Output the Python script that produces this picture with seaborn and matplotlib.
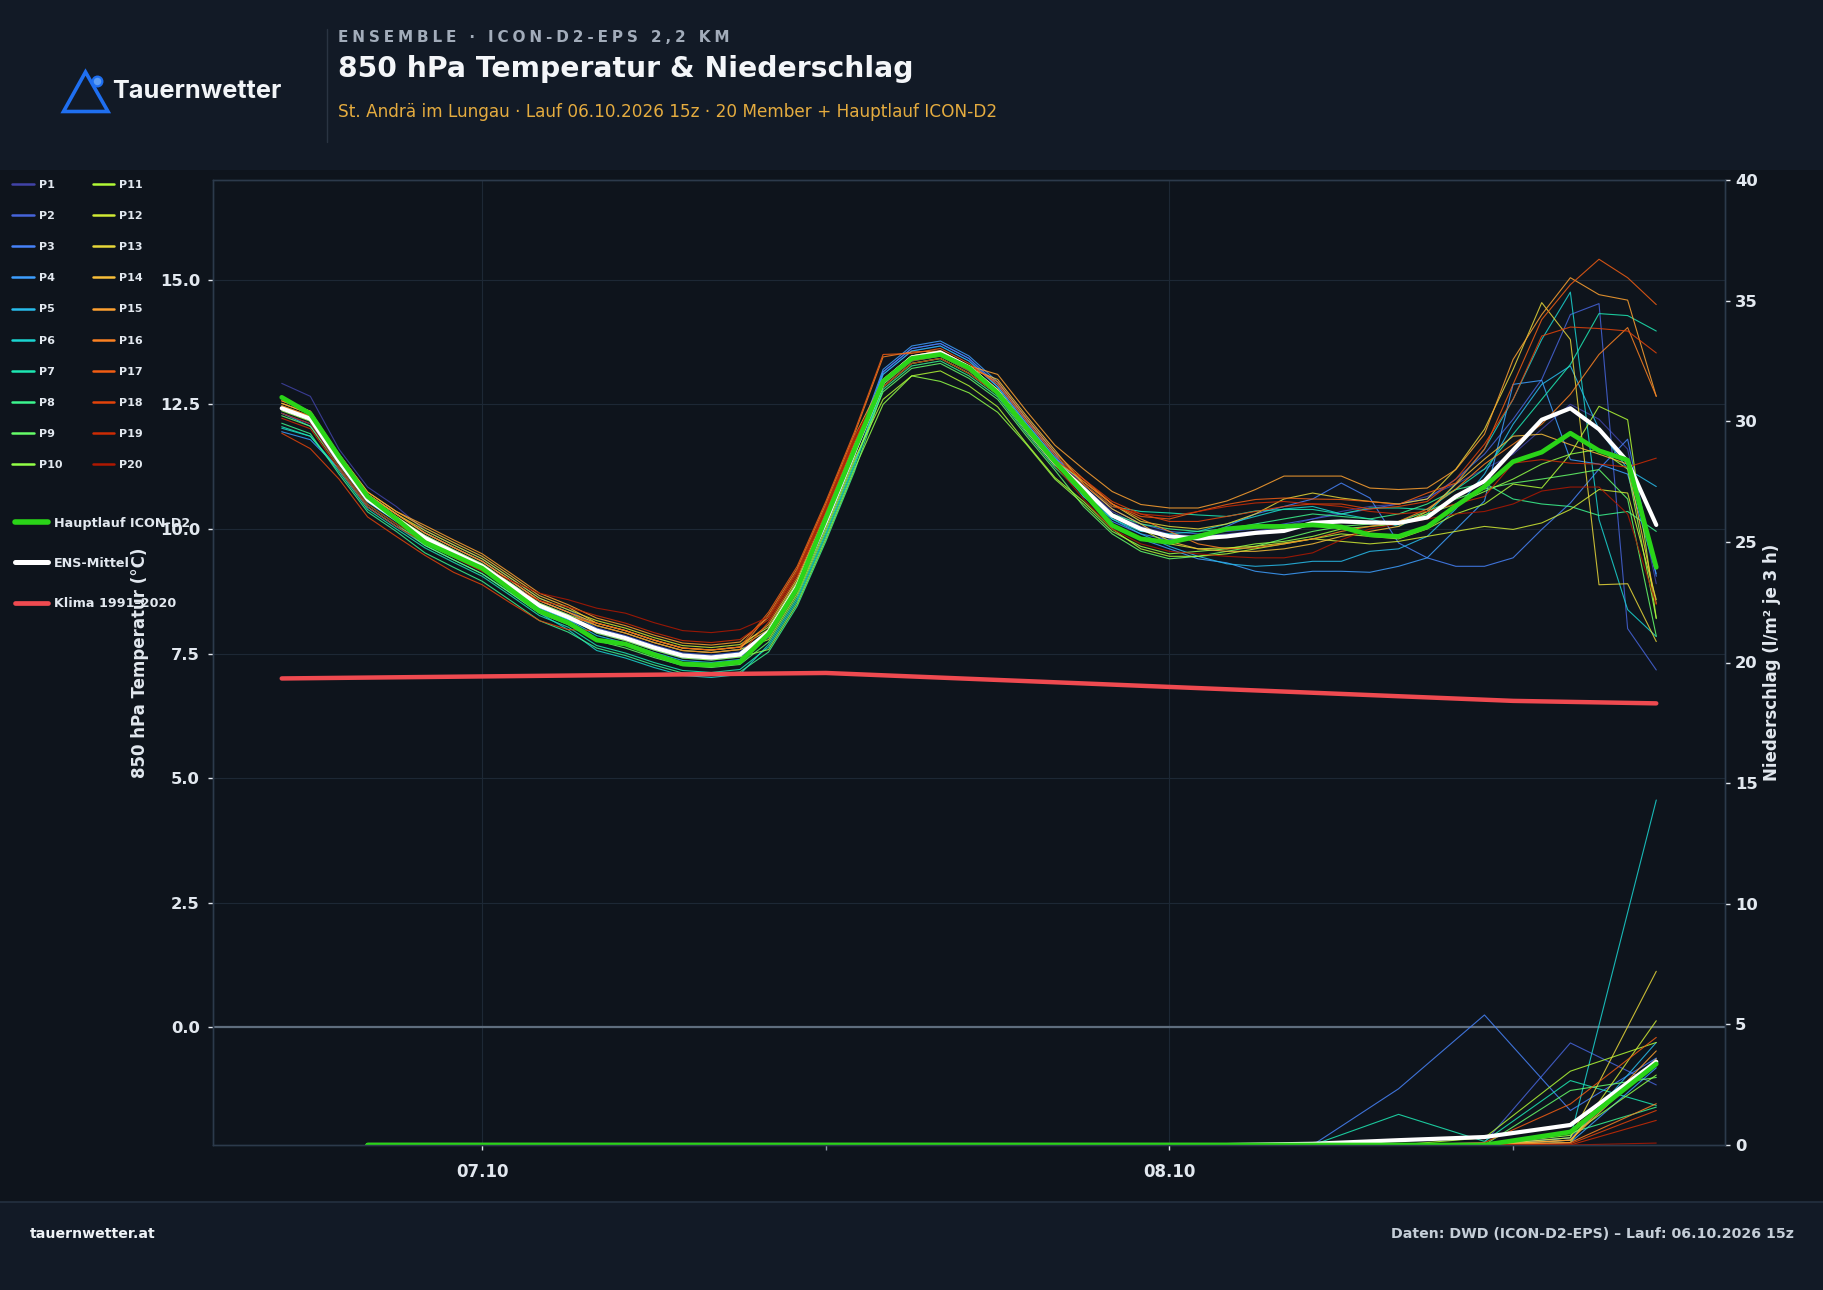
import numpy as np
import pandas as pd
import seaborn as sns
import matplotlib.pyplot as plt
import matplotlib.dates as mdates
from matplotlib.patches import Rectangle, Polygon
from matplotlib.lines import Line2D

# ---- time axes ----
temp_times = pd.date_range("2026-10-06 17:00", periods=49, freq="h")
precip_times = pd.date_range("2026-10-06 20:00", periods=16, freq="3h")
clim_times = pd.to_datetime(["2026-10-06 17:00", "2026-10-07 12:00", "2026-10-08 00:00",
                             "2026-10-08 12:00", "2026-10-08 17:00"])

# ---- 850 hPa temperature (°C) ----
hauptlauf_temp = [12.64, 12.31, 11.45, 10.65, 10.20, 9.73, 9.47, 9.21, 8.78, 8.35,
                  8.12, 7.77, 7.69, 7.48, 7.29, 7.27, 7.33, 7.89, 8.81, 10.21,
                  11.59, 12.96, 13.42, 13.50, 13.23, 12.73, 12.03, 11.35, 10.73, 10.07,
                  9.80, 9.73, 9.85, 10.00, 10.05, 10.05, 10.08, 10.04, 9.88, 9.85,
                  10.04, 10.46, 10.85, 11.35, 11.54, 11.92, 11.57, 11.38, 9.23]
ens_mean_temp = [12.42, 12.21, 11.36, 10.59, 10.20, 9.82, 9.53, 9.25, 8.86, 8.46,
                 8.23, 7.96, 7.81, 7.62, 7.46, 7.42, 7.48, 7.93, 8.85, 10.15,
                 11.55, 12.95, 13.44, 13.54, 13.24, 12.75, 12.02, 11.33, 10.81, 10.27,
                 10.00, 9.85, 9.81, 9.85, 9.92, 9.96, 10.12, 10.15, 10.13, 10.12,
                 10.23, 10.65, 10.96, 11.58, 12.19, 12.42, 12.00, 11.35, 10.08]
clim_temp = [7.00, 7.11, 6.83, 6.55, 6.50]

temp_p01 = [12.92, 12.66, 11.60, 10.84, 10.45, 9.97, 9.68, 9.40, 9.01, 8.61,
            8.38, 8.06, 7.91, 7.72, 7.56, 7.52, 7.58, 7.88, 8.80, 10.10,
            11.50, 13.10, 13.57, 13.67, 13.37, 12.85, 12.12, 11.43, 10.85, 10.35,
            10.05, 9.90, 9.85, 9.90, 9.95, 10.05, 10.20, 10.35, 10.45, 10.50,
            10.65, 10.90, 11.20, 11.50, 12.00, 12.50, 12.20, 11.60, 8.90]
temp_p02 = [12.62, 12.36, 11.45, 10.69, 10.30, 9.92, 9.63, 9.35, 8.96, 8.56,
            8.33, 8.01, 7.86, 7.67, 7.51, 7.47, 7.53, 7.93, 8.85, 10.15,
            11.55, 13.15, 13.62, 13.72, 13.42, 12.85, 12.12, 11.43, 10.90, 10.40,
            10.10, 9.95, 9.90, 9.95, 10.00, 10.10, 10.20, 10.30, 10.40, 10.50,
            10.60, 11.00, 11.50, 12.20, 13.00, 14.30, 14.52, 8.00, 7.17]
temp_p03 = [12.32, 12.11, 11.35, 10.59, 10.20, 9.87, 9.58, 9.30, 8.91, 8.51,
            8.28, 7.91, 7.76, 7.57, 7.41, 7.37, 7.43, 7.83, 8.75, 10.05,
            11.45, 13.15, 13.62, 13.72, 13.42, 12.90, 12.17, 11.48, 10.65, 10.15,
            9.90, 9.78, 9.85, 10.05, 10.30, 10.45, 10.60, 10.92, 10.62, 9.72,
            9.42, 9.25, 9.25, 9.42, 9.99, 10.52, 11.20, 11.80, 9.05]
temp_p04 = [11.95, 11.79, 11.20, 10.44, 10.05, 9.77, 9.48, 9.20, 8.81, 8.41,
            8.18, 7.96, 7.81, 7.62, 7.46, 7.42, 7.48, 7.98, 8.90, 10.20,
            11.60, 13.20, 13.67, 13.77, 13.47, 12.95, 12.22, 11.53, 10.70, 10.10,
            9.80, 9.60, 9.40, 9.32, 9.15, 9.08, 9.15, 9.15, 9.13, 9.25,
            9.42, 9.99, 10.56, 12.90, 12.98, 11.39, 11.30, 11.10, 9.10]
temp_p05 = [12.32, 12.06, 11.30, 10.54, 10.15, 9.77, 9.48, 9.20, 8.81, 8.41,
            8.18, 7.86, 7.71, 7.52, 7.36, 7.32, 7.38, 7.88, 8.80, 10.10,
            11.50, 13.10, 13.57, 13.67, 13.37, 12.85, 12.12, 11.43, 10.75, 10.20,
            9.90, 9.65, 9.45, 9.30, 9.25, 9.28, 9.35, 9.35, 9.55, 9.60,
            9.85, 10.40, 11.10, 12.10, 12.90, 13.27, 12.00, 11.20, 10.85]
temp_p06 = [12.02, 11.86, 11.20, 10.44, 10.05, 9.67, 9.38, 9.10, 8.71, 8.31,
            7.98, 7.56, 7.41, 7.22, 7.06, 7.02, 7.08, 7.68, 8.60, 9.90,
            11.30, 12.90, 13.37, 13.47, 13.17, 12.75, 12.02, 11.33, 10.65, 10.20,
            9.95, 9.90, 9.95, 10.10, 10.25, 10.40, 10.45, 10.30, 10.20, 10.05,
            10.30, 10.90, 11.60, 12.60, 13.80, 14.75, 10.19, 8.38, 7.84]
temp_p07 = [12.05, 11.86, 11.15, 10.39, 10.00, 9.62, 9.33, 9.05, 8.66, 8.26,
            8.03, 7.66, 7.51, 7.32, 7.16, 7.12, 7.18, 7.63, 8.55, 9.85,
            11.25, 12.85, 13.32, 13.42, 13.12, 12.70, 11.97, 11.28, 10.90, 10.45,
            10.35, 10.32, 10.28, 10.25, 10.36, 10.39, 10.39, 10.30, 10.42, 10.42,
            10.39, 10.79, 11.20, 11.90, 12.60, 13.30, 14.32, 14.28, 13.97]
temp_p08 = [12.12, 11.91, 11.10, 10.34, 9.95, 9.52, 9.23, 8.95, 8.56, 8.16,
            7.93, 7.61, 7.46, 7.27, 7.11, 7.07, 7.13, 7.53, 8.45, 9.75,
            11.15, 12.80, 13.27, 13.37, 13.07, 12.65, 11.92, 11.23, 10.70, 10.30,
            10.10, 10.00, 9.95, 10.00, 10.10, 10.20, 10.30, 10.25, 10.20, 10.30,
            10.50, 10.79, 10.92, 10.60, 10.50, 10.45, 10.27, 10.35, 9.95]
temp_p09 = [12.27, 12.06, 11.25, 10.49, 10.10, 9.67, 9.38, 9.10, 8.71, 8.31,
            8.08, 7.76, 7.61, 7.42, 7.26, 7.22, 7.28, 7.73, 8.65, 9.95,
            11.35, 12.75, 13.22, 13.32, 13.02, 12.60, 11.87, 11.18, 10.45, 9.90,
            9.55, 9.40, 9.45, 9.55, 9.65, 9.80, 9.95, 10.05, 10.10, 10.15,
            10.35, 10.60, 10.80, 10.92, 11.00, 11.09, 11.19, 10.60, 7.85]
temp_p10 = [12.37, 12.16, 11.35, 10.59, 10.20, 9.82, 9.53, 9.25, 8.86, 8.46,
            8.23, 7.91, 7.76, 7.57, 7.41, 7.37, 7.43, 7.58, 8.50, 9.80,
            11.20, 12.50, 13.07, 12.96, 12.73, 12.34, 11.70, 11.00, 10.50, 9.95,
            9.65, 9.50, 9.55, 9.60, 9.70, 9.75, 9.85, 10.00, 10.05, 10.10,
            10.30, 10.50, 10.75, 11.00, 11.30, 11.50, 11.60, 11.20, 8.20]
temp_p11 = [12.42, 12.21, 11.40, 10.64, 10.25, 9.87, 9.58, 9.30, 8.91, 8.51,
            8.28, 8.06, 7.91, 7.72, 7.56, 7.52, 7.58, 7.78, 8.70, 10.00,
            11.40, 12.60, 13.07, 13.17, 12.87, 12.45, 11.72, 11.03, 10.55, 10.00,
            9.60, 9.45, 9.45, 9.50, 9.60, 9.70, 9.80, 9.90, 9.85, 9.80,
            10.00, 10.30, 10.50, 10.90, 10.82, 11.50, 12.46, 12.19, 8.21]
temp_p12 = [12.47, 12.26, 11.45, 10.69, 10.30, 9.97, 9.68, 9.40, 9.01, 8.61,
            8.38, 8.16, 8.01, 7.82, 7.66, 7.62, 7.68, 8.03, 8.95, 10.25,
            11.65, 12.85, 13.32, 13.42, 13.12, 12.70, 11.97, 11.28, 10.80, 10.30,
            10.00, 9.70, 9.60, 9.62, 9.65, 9.72, 9.80, 9.75, 9.70, 9.75,
            9.85, 9.95, 10.05, 9.99, 10.12, 10.39, 10.79, 10.72, 8.58]
temp_p13 = [12.52, 12.31, 11.45, 10.69, 10.30, 9.92, 9.63, 9.35, 8.96, 8.56,
            8.33, 8.11, 7.96, 7.77, 7.61, 7.57, 7.63, 7.98, 8.90, 10.20,
            11.60, 13.00, 13.47, 13.57, 13.27, 12.80, 12.07, 11.38, 10.95, 10.50,
            10.15, 10.05, 10.00, 10.10, 10.30, 10.60, 10.72, 10.62, 10.55, 10.50,
            10.60, 11.20, 12.00, 13.20, 14.54, 13.80, 8.88, 8.90, 7.74]
temp_p14 = [12.57, 12.36, 11.50, 10.74, 10.35, 10.02, 9.73, 9.45, 9.06, 8.66,
            8.43, 8.11, 7.96, 7.77, 7.61, 7.57, 7.63, 8.08, 9.00, 10.30,
            11.70, 12.95, 13.42, 13.52, 13.22, 13.00, 12.27, 11.58, 10.90, 10.40,
            10.10, 9.75, 9.60, 9.55, 9.55, 9.60, 9.70, 9.85, 9.95, 10.05,
            10.35, 10.90, 11.40, 11.86, 11.90, 11.69, 11.50, 11.30, 8.50]
temp_p15 = [12.52, 12.31, 11.50, 10.74, 10.35, 10.07, 9.78, 9.50, 9.11, 8.71,
            8.48, 8.21, 8.06, 7.87, 7.71, 7.67, 7.73, 8.23, 9.15, 10.45,
            11.85, 13.00, 13.47, 13.57, 13.27, 13.10, 12.37, 11.68, 11.20, 10.75,
            10.49, 10.42, 10.42, 10.56, 10.79, 11.06, 11.06, 11.06, 10.82, 10.79,
            10.82, 11.19, 11.90, 13.40, 14.30, 15.04, 14.70, 14.59, 12.66]
temp_p16 = [12.57, 12.36, 11.45, 10.69, 10.30, 9.92, 9.63, 9.35, 8.96, 8.56,
            8.33, 8.06, 7.91, 7.72, 7.56, 7.52, 7.58, 8.28, 9.20, 10.50,
            11.90, 13.45, 13.55, 13.57, 13.27, 12.95, 12.22, 11.53, 11.00, 10.50,
            10.20, 9.95, 9.70, 9.60, 9.62, 9.70, 9.80, 9.95, 10.05, 10.15,
            10.40, 10.80, 11.30, 11.70, 12.10, 12.70, 13.50, 14.04, 12.66]
temp_p17 = [12.47, 12.26, 11.35, 10.59, 10.20, 9.82, 9.53, 9.25, 8.86, 8.46,
            8.23, 8.11, 7.96, 7.77, 7.61, 7.57, 7.63, 8.33, 9.25, 10.55,
            11.95, 13.50, 13.52, 13.62, 13.32, 12.90, 12.17, 11.48, 10.95, 10.50,
            10.25, 10.20, 10.35, 10.49, 10.59, 10.62, 10.60, 10.59, 10.55, 10.49,
            10.72, 10.92, 11.60, 12.90, 14.20, 14.90, 15.41, 15.04, 14.50]
temp_p18 = [11.92, 11.61, 11.00, 10.24, 9.85, 9.47, 9.13, 8.88, 8.51, 8.16,
            7.98, 7.96, 7.81, 7.62, 7.46, 7.42, 7.48, 8.13, 9.05, 10.35,
            11.75, 12.95, 13.42, 13.52, 13.22, 12.80, 12.07, 11.38, 11.00, 10.55,
            10.30, 10.15, 10.15, 10.25, 10.35, 10.45, 10.50, 10.50, 10.40, 10.45,
            10.55, 11.00, 11.70, 12.60, 13.87, 14.05, 14.02, 13.97, 13.53]
temp_p19 = [12.22, 12.01, 11.20, 10.44, 10.05, 9.72, 9.43, 9.15, 8.86, 8.56,
            8.43, 8.26, 8.11, 7.92, 7.76, 7.72, 7.78, 8.18, 9.10, 10.40,
            11.80, 12.90, 13.37, 13.47, 13.17, 12.75, 12.02, 11.33, 10.90, 10.45,
            10.30, 10.25, 10.35, 10.45, 10.52, 10.55, 10.50, 10.45, 10.35, 10.30,
            10.35, 10.50, 10.65, 11.32, 11.39, 11.32, 11.30, 11.24, 11.42]
temp_p20 = [12.32, 12.11, 11.25, 10.49, 10.10, 9.77, 9.48, 9.25, 8.96, 8.71,
            8.58, 8.41, 8.31, 8.12, 7.96, 7.92, 7.98, 8.23, 9.15, 10.45,
            11.85, 12.85, 13.32, 13.42, 13.12, 12.70, 11.97, 11.28, 10.60, 10.00,
            9.70, 9.55, 9.50, 9.45, 9.42, 9.42, 9.52, 9.78, 10.00, 10.10,
            10.20, 10.30, 10.35, 10.50, 10.76, 10.84, 10.84, 10.30, 8.48]

# ---- precipitation (l/m² je 3 h) ----
hauptlauf_precip = [0.0, 0.0, 0.0, 0.0, 0.0, 0.0, 0.0, 0.0, 0.0, 0.0, 0.0, 0.0, 0.0, 0.0, 0.54, 3.36]
ens_mean_precip = [0.0, 0.0, 0.0, 0.0, 0.0, 0.0, 0.0, 0.0, 0.0, 0.0, 0.0, 0.05, 0.20, 0.33, 0.83, 3.45]

precip_p01 = [0, 0, 0, 0, 0, 0, 0, 0, 0, 0, 0, 0, 0, 0, 0.30, 3.60]
precip_p02 = [0, 0, 0, 0, 0, 0, 0, 0, 0, 0, 0, 0, 0, 0.10, 4.23, 2.49]
precip_p03 = [0, 0, 0, 0, 0, 0, 0, 0, 0, 0, 0, 0, 2.33, 5.39, 1.43, 3.60]
precip_p04 = [0, 0, 0, 0, 0, 0, 0, 0, 0, 0, 0, 0, 0, 0, 0.10, 3.20]
precip_p05 = [0, 0, 0, 0, 0, 0, 0, 0, 0, 0, 0, 0, 0, 0, 0.20, 4.25]
precip_p06 = [0, 0, 0, 0, 0, 0, 0, 0, 0, 0, 0, 0, 0, 0, 0.30, 14.30]
precip_p07 = [0, 0, 0, 0, 0, 0, 0, 0, 0, 0, 0, 0, 1.27, 0.15, 2.67, 1.64]
precip_p08 = [0, 0, 0, 0, 0, 0, 0, 0, 0, 0, 0, 0, 0, 0, 0.50, 1.57]
precip_p09 = [0, 0, 0, 0, 0, 0, 0, 0, 0, 0, 0, 0, 0, 0, 2.26, 2.80]
precip_p10 = [0, 0, 0, 0, 0, 0, 0, 0, 0, 0, 0, 0, 0, 0, 0.40, 2.90]
precip_p11 = [0, 0, 0, 0, 0, 0, 0, 0, 0, 0, 0, 0, 0, 0.30, 3.06, 4.25]
precip_p12 = [0, 0, 0, 0, 0, 0, 0, 0, 0, 0, 0, 0, 0, 0, 0.10, 5.15]
precip_p13 = [0, 0, 0, 0, 0, 0, 0, 0, 0, 0, 0, 0, 0, 0, 0.30, 7.20]
precip_p14 = [0, 0, 0, 0, 0, 0, 0, 0, 0, 0, 0, 0, 0, 0, 0.20, 3.57]
precip_p15 = [0, 0, 0, 0, 0, 0, 0, 0, 0, 0, 0, 0, 0, 0, 0.20, 3.90]
precip_p16 = [0, 0, 0, 0, 0, 0, 0, 0, 0, 0, 0, 0, 0, 0, 0.10, 1.71]
precip_p17 = [0, 0, 0, 0, 0, 0, 0, 0, 0, 0, 0, 0, 0, 0.10, 1.70, 4.46]
precip_p18 = [0, 0, 0, 0, 0, 0, 0, 0, 0, 0, 0, 0, 0, 0, 0.05, 1.43]
precip_p19 = [0, 0, 0, 0, 0, 0, 0, 0, 0, 0, 0, 0, 0, 0, 0.00, 1.02]
precip_p20 = [0, 0, 0, 0, 0, 0, 0, 0, 0, 0, 0, 0, 0, 0, 0.00, 0.08]

member_names = [f"P{i}" for i in range(1, 21)]
member_temp = [temp_p01, temp_p02, temp_p03, temp_p04, temp_p05, temp_p06, temp_p07,
               temp_p08, temp_p09, temp_p10, temp_p11, temp_p12, temp_p13, temp_p14,
               temp_p15, temp_p16, temp_p17, temp_p18, temp_p19, temp_p20]
member_precip = [precip_p01, precip_p02, precip_p03, precip_p04, precip_p05, precip_p06,
                 precip_p07, precip_p08, precip_p09, precip_p10, precip_p11, precip_p12,
                 precip_p13, precip_p14, precip_p15, precip_p16, precip_p17, precip_p18,
                 precip_p19, precip_p20]

# long tables for seaborn
temp_long = pd.concat([pd.DataFrame({"time": temp_times, "temp": v, "member": n})
                       for n, v in zip(member_names, member_temp)], ignore_index=True)
precip_long = pd.concat([pd.DataFrame({"time": precip_times, "precip": v, "member": n})
                         for n, v in zip(member_names, member_precip)], ignore_index=True)

# ---- style ----
bg = "#0e141c"
header_bg = "#121a26"
grid_c = "#1d2835"
spine_c = "#2c3a4b"
txt_c = "#e2e8ef"
green = "#2ad418"
red = "#ef4a50"

sns.set_theme(style="dark")
plt.rcParams["font.family"] = ["DejaVu Sans"]
plt.rcParams["font.weight"] = "bold"
plt.rcParams["axes.labelweight"] = "bold"

member_colors = dict(zip(member_names, plt.get_cmap("turbo")(np.linspace(0.07, 0.93, 20))))

W, H = 1824, 1290
def fx(px):
    return px / W
def fy(py):
    return 1 - py / H

fig = plt.figure(figsize=(18.24, 12.9), dpi=100, facecolor=bg)

# header / footer bands
fig.patches.append(Rectangle((0, fy(170)), 1, 170 / H, transform=fig.transFigure,
                             facecolor=header_bg, edgecolor="none", zorder=-10))
fig.patches.append(Rectangle((0, 0), 1, 88 / H, transform=fig.transFigure,
                             facecolor=header_bg, edgecolor="none", zorder=-10))
fig.add_artist(Line2D([0, 1], [fy(1202), fy(1202)], color="#243040", lw=1.2))
fig.add_artist(Line2D([fx(327), fx(327)], [fy(29), fy(142)], color="#2a3442", lw=1))

# logo
fig.patches.append(Polygon([(fx(63.5), fy(111.5)), (fx(85.5), fy(72)), (fx(108), fy(111.5))],
                           closed=True, fill=False, edgecolor="#1f6ff0", lw=2.6,
                           joinstyle="miter", transform=fig.transFigure))
fig.add_artist(Line2D([fx(97.5)], [fy(81)], marker="o", ms=7, mfc="#5d9df2",
                      mec="#1f6ff0", mew=1.6, transform=fig.transFigure))
fig.text(fx(112), fy(91), "Tauernwetter", fontsize=18.2, fontweight="bold",
         family=["Inter", "DejaVu Sans"], color="#f2f5f8", va="center", ha="left")

# titles
kicker = "ENSEMBLE · ICON-D2-EPS 2,2 KM"
fig.text(fx(338), fy(37), "\u2005".join(kicker), fontsize=11, fontweight="bold",
         color="#a2acba", va="center")
fig.text(fx(338), fy(69), "850 hPa Temperatur & Niederschlag", fontsize=20.3,
         fontweight="bold", color="#f4f6f9", va="center")
fig.text(fx(338), fy(112), "St. Andrä im Lungau · Lauf 06.10.2026 15z · 20 Member + Hauptlauf ICON-D2",
         fontsize=12.2, fontweight="normal", color="#e5ac3f", va="center")

# footer
fig.text(fx(30), fy(1234), "tauernwetter.at", fontsize=10.2, fontweight="bold",
         color="#eef2f6", va="center")
fig.text(fx(1794), fy(1234), "Daten: DWD (ICON-D2-EPS) – Lauf: 06.10.2026 15z", fontsize=10.2,
         fontweight="bold", color="#c5ced8", va="center", ha="right")

# ---- main axes ----
ax = fig.add_axes([fx(213), fy(1145), (1725 - 213) / W, (1145 - 180) / H])
ax.set_facecolor(bg)
ax.axhline(0, color="#5f6e7e", lw=1.6, zorder=1.5)

sns.lineplot(data=temp_long, x="time", y="temp", hue="member", hue_order=member_names,
             palette=member_colors, estimator=None, lw=0.8, alpha=0.85, legend=False,
             ax=ax, zorder=2)
sns.lineplot(x=clim_times, y=clim_temp, color=red, lw=3.2, ax=ax, zorder=3)
sns.lineplot(x=temp_times, y=ens_mean_temp, color="white", lw=3.0, ax=ax, zorder=4)
sns.lineplot(x=temp_times, y=hauptlauf_temp, color=green, lw=3.4, ax=ax, zorder=5)

ax2 = ax.twinx()
sns.lineplot(data=precip_long, x="time", y="precip", hue="member", hue_order=member_names,
             palette=member_colors, estimator=None, lw=0.8, alpha=0.85, legend=False, ax=ax2)
sns.lineplot(x=precip_times, y=ens_mean_precip, color="white", lw=3.0, ax=ax2)
sns.lineplot(x=precip_times, y=hauptlauf_precip, color=green, lw=3.4, ax=ax2)

ax.set_xlim(temp_times[0] - pd.Timedelta(hours=2.4), temp_times[-1] + pd.Timedelta(hours=2.4))
ax.set_ylim(-2.36, 17.0)
ax.set_yticks([0, 2.5, 5, 7.5, 10, 12.5, 15])
ax.yaxis.set_major_formatter(plt.FormatStrFormatter("%.1f"))
ax2.set_ylim(0, 40)
ax2.set_yticks(range(0, 41, 5))

ax.xaxis.set_major_locator(mdates.DayLocator())
ax.xaxis.set_major_formatter(mdates.DateFormatter("%d.%m"))
ax.xaxis.set_minor_locator(mdates.HourLocator(byhour=[12]))

ax.grid(True, which="major", color=grid_c, lw=0.8)
ax2.grid(False)
ax.set_axisbelow(True)

ax.set_xlabel("")
ax2.set_xlabel("")
ax.set_ylabel("850 hPa Temperatur (°C)", fontsize=12, color=txt_c, labelpad=7.5)
ax2.set_ylabel("Niederschlag (l/m² je 3 h)", fontsize=12, color=txt_c, labelpad=4)

ax.tick_params(axis="y", colors=txt_c, labelsize=11.8, length=3.6, width=1, pad=5.8, left=True)
ax.tick_params(axis="x", which="major", colors=txt_c, labelsize=12, length=3.6, width=1,
               pad=9.4, bottom=True)
ax.tick_params(axis="x", which="minor", colors="#8a97a6", length=3.6, width=1, bottom=True)
ax2.tick_params(axis="y", colors=txt_c, labelsize=11.8, length=3.6, width=1, pad=3.6, right=True)

for a in (ax, ax2):
    for s in a.spines.values():
        s.set_visible(True)
        s.set_color(spine_c)
        s.set_linewidth(1.0)

# ---- legends ----
member_handles = [Line2D([], [], color=member_colors[n], lw=1.8) for n in member_names]
fig.legend(member_handles, member_names, loc="upper left", bbox_to_anchor=(fx(12.5), fy(180)),
           ncol=2, frameon=False, prop={"weight": "bold", "size": 8}, labelcolor=txt_c,
           handlelength=1.9, handletextpad=0.45, labelspacing=1.9, columnspacing=2.8,
           borderpad=0, borderaxespad=0)

main_handles = [Line2D([], [], color=green, lw=4.0), Line2D([], [], color="white", lw=3.6),
                Line2D([], [], color=red, lw=3.4)]
fig.legend(main_handles, ["Hauptlauf ICON-D2", "ENS-Mittel", "Klima 1991–2020"],
           loc="upper left", bbox_to_anchor=(fx(15), fy(516.5)), frameon=False,
           prop={"weight": "bold", "size": 9.2}, labelcolor=txt_c, handlelength=2.6,
           handletextpad=0.47, labelspacing=2.14, borderpad=0, borderaxespad=0)

fig.savefig("out.png", dpi=100, facecolor=fig.get_facecolor())
